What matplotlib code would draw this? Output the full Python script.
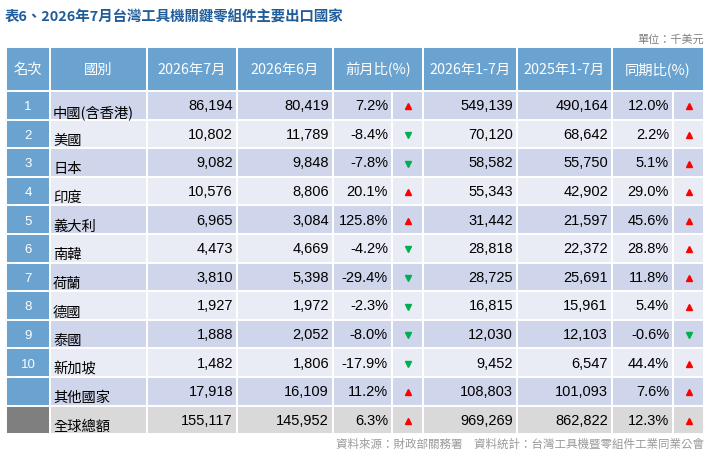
import matplotlib.pyplot as plt
from matplotlib.patches import Rectangle

# table data (unit: thousand USD)
ranks = ['1', '2', '3', '4', '5', '6', '7', '8', '9', '10', '', '']
countries = ['中國(含香港)', '美國', '日本', '印度', '義大利', '南韓', '荷蘭', '德國',
             '泰國', '新加坡', '其他國家', '全球總額']
jul_2026 = [86194, 10802, 9082, 10576, 6965, 4473, 3810, 1927, 1888, 1482, 17918, 155117]
jun_2026 = [80419, 11789, 9848, 8806, 3084, 4669, 5398, 1972, 2052, 1806, 16109, 145952]
mom_pct = [7.2, -8.4, -7.8, 20.1, 125.8, -4.2, -29.4, -2.3, -8.0, -17.9, 11.2, 6.3]
ytd_2026 = [549139, 70120, 58582, 55343, 31442, 28818, 28725, 16815, 12030, 9452, 108803, 969269]
ytd_2025 = [490164, 68642, 55750, 42902, 21597, 22372, 25691, 15961, 12103, 6547, 101093, 862822]
yoy_pct = [12.0, 2.2, 5.1, 29.0, 45.6, 28.8, 11.8, 5.4, -0.6, 44.4, 7.6, 12.3]

headers = ['名次', '國別', '2026年7月', '2026年6月', '前月比(%)', '2026年1-7月', '2025年1-7月', '同期比(%)']

cjk = ['Noto Sans CJK TC', 'DejaVu Sans']
num_font = ['Liberation Sans', 'Noto Sans CJK TC']

# column edges in pixels:
# 0 rank, 1 country, 2 jul, 3 jun, 4 mom, 5 mom arrow, 6 ytd26, 7 ytd25, 8 yoy, 9 yoy arrow
edges = [6, 50, 147, 237, 333, 392, 423, 517, 612, 673, 704]
head_top, head_bot = 48, 92
row_h = 28.6

header_blue = '#6aa3cf'
light_a = '#cfd5ea'
light_b = '#e9ebf5'
total_grey = '#d9d9d9'
up_red = '#ff0000'
down_green = '#00b050'

fig = plt.figure(figsize=(7.11, 4.56), dpi=100)
ax = fig.add_axes([0, 0, 1, 1])
ax.set_xlim(0, 711)
ax.set_ylim(456, 0)
ax.axis('off')


def cell(x0, x1, y0, y1, color):
    ax.add_patch(Rectangle((x0, y0), x1 - x0, y1 - y0, facecolor=color,
                           edgecolor='white', linewidth=1.4))


# header row
head_spans = [(0, 1), (1, 2), (2, 3), (3, 4), (4, 6), (6, 7), (7, 8), (8, 10)]
for (a, b), label in zip(head_spans, headers):
    cell(edges[a], edges[b], head_top, head_bot, header_blue)
    ax.text((edges[a] + edges[b]) / 2, (head_top + head_bot) / 2, label,
            ha='center', va='center', color='white', fontsize=10.3, family=cjk)

n = len(countries)
for i in range(n):
    y0 = head_bot + i * row_h
    y1 = y0 + row_h
    yc = (y0 + y1) / 2
    is_total = i == n - 1
    bg = total_grey if is_total else (light_a if i % 2 == 0 else light_b)
    cell(edges[0], edges[1], y0, y1, '#7f7f7f' if is_total else header_blue)
    for k in range(1, 10):
        cell(edges[k], edges[k + 1], y0, y1, bg)

    ax.text((edges[0] + edges[1]) / 2, yc + 1, ranks[i], ha='center', va='center',
            color='white', fontsize=9.5, family=num_font)
    ax.text(edges[1] + 3, yc + 6, countries[i], ha='left', va='center',
            color='black', fontsize=10.3, family=cjk)

    for val, col in [(jul_2026[i], 2), (jun_2026[i], 3), (ytd_2026[i], 6), (ytd_2025[i], 7)]:
        ax.text(edges[col + 1] - 4, yc, f'{val:,}', ha='right', va='center',
                color='black', fontsize=10.5, family=num_font)
    for val, col in [(mom_pct[i], 4), (yoy_pct[i], 8)]:
        ax.text(edges[col + 1] - 4, yc, f'{val:.1f}%', ha='right', va='center',
                color='black', fontsize=10.5, family=num_font)
        up = val >= 0
        ax.plot((edges[col + 1] + edges[col + 2]) / 2, yc + 1, marker='^' if up else 'v',
                markersize=4.8, color=up_red if up else down_green, linestyle='none')

# title, unit and source notes
ax.text(5, 18, '表6、2026年7月台灣工具機關鍵零組件主要出口國家', ha='left', va='center',
        color='#1f5c99', fontsize=10.4, fontweight='bold', family=cjk)
ax.text(704, 40, '單位：千美元', ha='right', va='center', color='#808080',
        fontsize=8, family=cjk)
ax.text(704, 444, '資料來源：財政部關務署　資料統計：台灣工具機暨零組件工業同業公會',
        ha='right', va='center', color='#999999', fontsize=8.3, family=cjk)

fig.savefig('out.png', dpi=100)
